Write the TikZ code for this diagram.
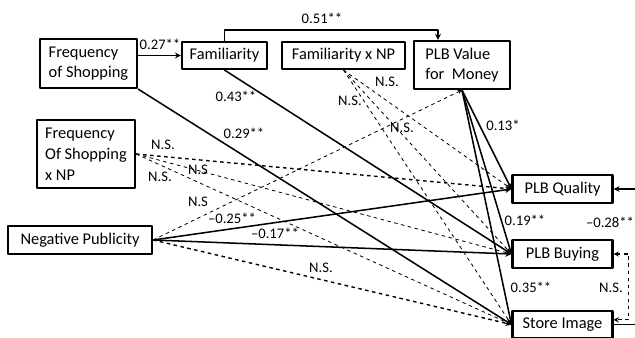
\documentclass[tikz,border=0pt]{standalone}
\usepackage{fontspec}
\setmainfont{Carlito}
\begin{document}
\begin{tikzpicture}[x=0.03cm,y=-0.03cm,>=stealth,line join=round,
  font=\fontsize{12.5}{14}\selectfont,
  box/.style={draw,line width=1.8pt,font=\fontsize{14}{17}\selectfont,align=left,inner sep=1pt},
  eff/.style={->,line width=1.3pt},
  ns/.style={->,dashed,line width=0.7pt},
  nsb/.style={->,dashed,line width=1.2pt}]
\useasboundingbox (0,0) rectangle (635,338);
% constructs
\path
(88.5,63.5) node[box,minimum width=2.91cm,minimum height=1.47cm] (fos) {Frequency\\of Shopping}
(224.5,55.5) node[box,minimum width=2.55cm,minimum height=0.81cm] (fam) {Familiarity}
(343.5,55.5) node[box,minimum width=3.69cm,minimum height=0.81cm] (famnp) {Familiarity x NP}
(462,65) node[box,minimum width=2.88cm,minimum height=1.44cm] (pvm) {PLB Value\\for~ Money}
(86,154) node[box,minimum width=2.94cm,minimum height=2.04cm,font=\fontsize{14}{18}\selectfont] (fosnp) {Frequency\\Of Shopping\\x NP}
(80,240) node[box,minimum width=4.32cm,minimum height=0.84cm] (np) {Negative Publicity}
(562.5,189) node[box,minimum width=3cm,minimum height=0.84cm] (qual) {PLB Quality}
(562.5,254) node[box,minimum width=3cm,minimum height=0.84cm] (buy) {PLB Buying}
(562.5,324.5) node[box,minimum width=3cm,minimum height=0.81cm] (img) {Store Image}
;
\coordinate (bend) at (438,30);
% paths
\draw[eff] (fam -| fos.east) -- (fam.west);
\draw[eff] (fam.north) -- (fam.north |- bend) -- (bend) -- (bend |- pvm.north);
\draw[eff] (fam.south) -- (buy.west);
\draw[eff] (fos.south east) -- (img.west);
\foreach \t in {qual,buy,img}{
  \draw[eff] (pvm.south) -- (\t.west);
  \draw[ns] (famnp.south) -- (\t.west);
}
\draw[nsb] (fosnp.east) -- (qual.west);
\draw[ns] (fosnp.east) -- (buy.west);
\draw[ns] (fosnp.east) -- (img.west);
\draw[eff] (np.east) -- (qual.west);
\draw[eff] (np.east) -- (buy.west);
\draw[nsb] (np.east) -- (img.west);
\draw[ns] (np.east) -- (pvm.south);
\draw[eff] (img.east) -- ++(40,0) |- (qual.east);
\draw[<->,dashed,line width=1pt] (buy.east) -- ++(15,0) |- ([yshift=4pt]img.east);
% estimates
\foreach \n/\p/\t in {e1/{160,44}/0.27**,e2/{322,18}/0.51**,e3/{236,96}/0.43**,e4/{244,133}/0.29**,
  e5/{387,82}/N.S.,e6/{350,101}/N.S.,e7/{402,128}/N.S.,e8/{503,125}/0.13*,e9/{525,220}/0.19**,
  e10/{531,287}/0.35**,e11/{163,145}/N.S.,e12/{198,170}/N.S,e13/{160,177}/N.S.,e14/{198,202}/N.S,
  e15/{232,218}/--0.25**,e16/{275,233}/--0.17**,e17/{321,268}/N.S.,e18/{610,222}/--0.28**,e19/{611,288}/N.S.}
  \node[inner sep=0pt] (\n) at (\p) {\t};
\end{tikzpicture}
\end{document}
